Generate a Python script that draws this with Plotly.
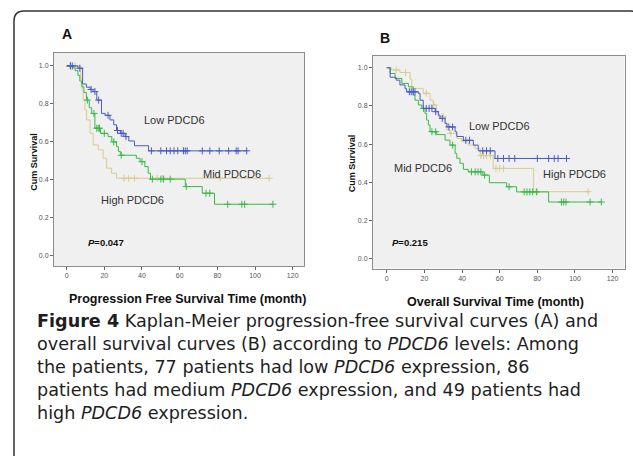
import numpy as np
import plotly.graph_objects as go

# ---------------- Panel A: Progression free survival ----------------
a_low_t = [0, 6, 8.5, 10.5, 12.5, 14, 16, 18.5, 20.5, 23, 25, 26.5, 28.5, 31, 33, 36, 43.5]
a_low_s = [1.0, 0.988, 0.905, 0.888, 0.876, 0.865, 0.82, 0.75, 0.74, 0.716, 0.69, 0.66, 0.645, 0.628, 0.605, 0.58, 0.553]
a_low_end = 95.6
a_low_c = [2, 3, 7, 13, 15, 17, 22, 27, 29, 30, 31.5, 45, 50, 53, 55, 57, 59, 62, 63, 64, 72, 76, 81, 86, 90, 91, 95.6]

a_mid_t = [0, 3, 4.5, 6, 7, 8, 9.2, 10.5, 12, 13.3, 15, 18, 22, 24, 26.5, 27.5, 28.5, 37, 39, 41.5, 43.3, 44.5, 63, 72, 78.5]
a_mid_s = [1.0, 0.99, 0.975, 0.95, 0.92, 0.89, 0.86, 0.82, 0.78, 0.75, 0.672, 0.645, 0.628, 0.60, 0.575, 0.55, 0.53, 0.514, 0.496, 0.47, 0.435, 0.404, 0.365, 0.33, 0.272]
a_mid_end = 109.5
a_mid_c = [2, 11, 14.5, 16, 16.8, 17.5, 20, 25, 29, 40, 45.5, 50, 51.5, 55, 63.5, 74, 76, 85.5, 93, 94.5, 109.5]

a_high_t = [0, 7.5, 8.2, 8.8, 9.7, 10.6, 12.4, 14.1, 16.8, 19.4, 21.2, 23.9, 26.5]
a_high_s = [1.0, 0.93, 0.874, 0.82, 0.768, 0.716, 0.646, 0.584, 0.558, 0.514, 0.462, 0.435, 0.409]
a_high_end = 107.5
a_high_c = [4.5, 30.5, 33, 36, 48, 51, 81.5, 107.5]

# ---------------- Panel B: Overall survival ----------------
b_low_t = [0, 1.8, 5, 7, 9.7, 10.6, 16.8, 17.7, 19.4, 25.7, 27.4, 28.3, 31, 32, 36.3, 37.2, 40.7, 46, 48.6, 57.5]
b_low_s = [1.0, 0.95, 0.935, 0.91, 0.89, 0.874, 0.866, 0.83, 0.787, 0.77, 0.752, 0.735, 0.709, 0.69, 0.665, 0.64, 0.62, 0.595, 0.565, 0.525]
b_low_end = 95.5
b_low_c = [12, 13, 14, 15, 21, 22.5, 24, 26, 29.5, 33, 35, 42, 44, 51, 53, 55, 59, 62, 65, 68, 80, 86, 89, 91, 95.5]

b_mid_t = [0, 1.8, 4.4, 8, 11.5, 14.1, 15, 16.8, 18.6, 20.3, 21.2, 22.1, 23, 26.5, 31, 33.6, 36.3, 37.2, 38.9, 40.7, 43.3, 51, 54.5, 63.7, 69, 86]
b_mid_s = [1.0, 0.97, 0.944, 0.918, 0.90, 0.857, 0.83, 0.805, 0.787, 0.761, 0.726, 0.70, 0.665, 0.65, 0.621, 0.595, 0.552, 0.526, 0.50, 0.468, 0.455, 0.438, 0.398, 0.377, 0.35, 0.297]
b_mid_end = 114
b_mid_c = [19.5, 24, 26, 35, 45, 47, 48.5, 50, 52, 65, 73, 74.5, 76, 77.5, 79.5, 92.8, 94, 95.2, 108, 114]

b_high_t = [0, 2.6, 7, 12.4, 13.3, 19.4, 23, 24.7, 26.5, 27.4, 31, 31.9, 33.6, 37.2, 39.8, 43.3, 46.9, 49.6, 56.6, 78]
b_high_s = [1.0, 0.988, 0.975, 0.94, 0.892, 0.866, 0.83, 0.805, 0.77, 0.744, 0.709, 0.674, 0.656, 0.63, 0.613, 0.595, 0.578, 0.54, 0.473, 0.351]
b_high_end = 107
b_high_c = [5, 10, 21, 25, 30, 34, 50, 51.5, 53, 55, 58, 60, 62, 80, 107]

x_ticks = [0, 20, 40, 60, 80, 100, 120]
y_ticks = [0.0, 0.2, 0.4, 0.6, 0.8, 1.0]

BLUE = "#4a5cbf"
GREEN = "#3cb84a"
TAN = "#d6cc8e"

W, H = 633, 456


def px(x):
    return x / W


def py(y):
    return 1 - y / H


fig = go.Figure()


def add_curve(t, s, end, cens, color, xa, ya):
    t = np.array(t, dtype=float)
    s = np.array(s, dtype=float)
    xs = np.append(t, end)
    ys = np.append(s, s[-1])
    fig.add_trace(go.Scatter(x=xs, y=ys, mode="lines", line=dict(color=color, width=1, shape="hv"),
                             xaxis=xa, yaxis=ya, showlegend=False, hoverinfo="skip"))
    c = np.array(cens, dtype=float)
    idx = np.searchsorted(t, c, side="right") - 1
    fig.add_trace(go.Scatter(x=c, y=s[idx], mode="markers",
                             marker=dict(symbol="cross-thin-open", size=5, color=color,
                                         line=dict(color=color, width=1)),
                             xaxis=xa, yaxis=ya, showlegend=False, hoverinfo="skip"))


add_curve(a_high_t, a_high_s, a_high_end, a_high_c, TAN, "x", "y")
add_curve(a_mid_t, a_mid_s, a_mid_end, a_mid_c, GREEN, "x", "y")
add_curve(a_low_t, a_low_s, a_low_end, a_low_c, BLUE, "x", "y")
add_curve(b_high_t, b_high_s, b_high_end, b_high_c, TAN, "x2", "y2")
add_curve(b_mid_t, b_mid_s, b_mid_end, b_mid_c, GREEN, "x2", "y2")
add_curve(b_low_t, b_low_s, b_low_end, b_low_c, BLUE, "x2", "y2")

axis_common = dict(showline=True, mirror=True, linecolor="#8c8c8c", linewidth=1,
                   ticks="outside", ticklen=3, tickcolor="#666", tickwidth=1,
                   tickfont=dict(family="Arial, Liberation Sans", size=7, color="#555"),
                   showgrid=False, zeroline=False, fixedrange=True)

fig.update_layout(
    width=W, height=H, margin=dict(l=0, r=0, t=0, b=0),
    paper_bgcolor="white", plot_bgcolor="#f0f0f0", showlegend=False,
    xaxis=dict(domain=[px(54), px(304)], range=[-6.7, 126], tickvals=x_ticks, anchor="y", **axis_common),
    yaxis=dict(domain=[py(266), py(53)], range=[-0.053, 1.068], tickvals=y_ticks, tickformat=".1f",
               anchor="x", **axis_common),
    xaxis2=dict(domain=[px(373), px(624.5)], range=[-7.3, 126.3], tickvals=x_ticks, anchor="y2", **axis_common),
    yaxis2=dict(domain=[py(268.5), py(55.7)], range=[-0.051, 1.063], tickvals=y_ticks, tickformat=".1f",
                anchor="x2", **axis_common),
)

ann = []


def note(x, y, text, font, xref="paper", yref="paper", xanchor="center", **kw):
    ann.append(dict(x=x, y=y, xref=xref, yref=yref, text=text, showarrow=False, font=font,
                    xanchor=xanchor, yanchor="middle", **kw))


lab_font = dict(family="Arial, Liberation Sans", size=11, color="#333")
note(57, 0.716, "Low PDCD6", lab_font, "x", "y")
note(87.7, 0.432, "Mid PDCD6", lab_font, "x", "y")
note(35, 0.295, "High PDCD6", lab_font, "x", "y")
note(60, 0.695, "Low PDCD6", lab_font, "x2", "y2")
note(19.5, 0.473, "Mid PDCD6", lab_font, "x2", "y2")
note(100, 0.443, "High PDCD6", lab_font, "x2", "y2")

pfont = dict(family="Arial, Liberation Sans", size=9.5, color="#111")
note(px(86), py(242.7), "<b><i>P</i>=0.047</b>", pfont, xanchor="left")
note(px(390), py(242.7), "<b><i>P</i>=0.215</b>", pfont, xanchor="left")

letter_font = dict(family="Arial, Liberation Sans", size=14, color="#111")
note(px(67), py(34), "<b>A</b>", letter_font)
note(px(385), py(38), "<b>B</b>", letter_font)

yt_font = dict(family="Arial, Liberation Sans", size=9, color="#111")
note(px(33.3), py(161.5), "<b>Cum Survival</b>", yt_font, textangle=-90)
note(px(352.3), py(163), "<b>Cum Survival</b>", yt_font, textangle=-90)
xt_font = dict(family="Arial, Liberation Sans", size=12.5, color="#111")
note(px(188), py(299), "<b>Progression Free Survival Time (month)</b>", xt_font)
note(px(495), py(302), "<b>Overall Survival Time (month)</b>", xt_font)

cap_lines = [
    "<b>Figure 4</b> Kaplan-Meier progression-free survival curves (A) and",
    "overall survival curves (B) according to <i>PDCD6</i> levels: Among",
    "the patients, 77 patients had low <i>PDCD6</i> expression, 86",
    "patients had medium <i>PDCD6</i> expression, and 49 patients had",
    "high <i>PDCD6</i> expression.",
]
cap_y = [321, 344, 367, 390, 413]
cap_font = dict(family="DejaVu Sans", size=17.6, color="#1e1e1e")
for line, yy in zip(cap_lines, cap_y):
    note(px(35), py(yy), line, cap_font, xanchor="left")

fig.update_layout(annotations=ann)

path = (f"M {px(14)},{py(470)} L {px(14)},{py(21)} Q {px(14)},{py(11)} {px(24)},{py(11)} "
        f"L {px(630)},{py(11)} Q {px(640)},{py(11)} {px(640)},{py(21)} L {px(640)},{py(470)}")
fig.add_shape(type="path", path=path, xref="paper", yref="paper", line=dict(color="#333", width=1.5))

fig.write_html("out.html", config={"displayModeBar": False},
               post_script="document.body.style.margin='0';document.body.style.overflow='hidden';")
